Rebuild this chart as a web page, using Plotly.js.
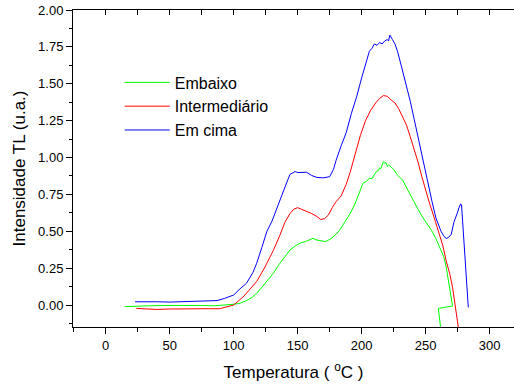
<!DOCTYPE html>
<html>
<head>
<meta charset="utf-8">
<script src="https://cdn.plot.ly/plotly-3.0.1.min.js"></script>
<style>html,body{margin:0;padding:0;overflow:hidden;background:#fff;}</style>
</head>
<body>
<div id="chart" style="width:514px;height:389px;"></div>
<script>
// Series names
const seriesNames = ["Embaixo", "Intermediário", "Em cima"];

// Embaixo (green)
const embaixoT = [15,25,35,45,55,65,75,85,95,100,105,110,114,118,122,126,131,135,140,144,148,152,156,160,162,165,169,172,176,180,183,187,191,195,199,201,204,206,208,211,213,214,215,217,218,219,220,221,223,225,228,232,236,240,244,248,251,255,258,261,264,266,268,270,271,259.9,261.7,262.3];
const embaixoI = [-0.011,-0.01,-0.005,-0.003,-0.002,0.0,-0.003,-0.005,0.0,0.005,0.012,0.03,0.05,0.08,0.12,0.16,0.215,0.27,0.33,0.373,0.40,0.42,0.43,0.445,0.452,0.44,0.435,0.43,0.45,0.48,0.51,0.565,0.62,0.69,0.78,0.825,0.84,0.86,0.855,0.90,0.91,0.93,0.925,0.972,0.96,0.965,0.94,0.95,0.935,0.92,0.88,0.847,0.78,0.712,0.65,0.59,0.554,0.50,0.45,0.395,0.33,0.26,0.15,0.03,-0.007,-0.023,-0.15,-0.2];

// Intermediário (red)
const intermT = [24,30,40,50,60,70,80,89,95,100,104,108,112,118,124,131,136,140,144,147,150,153,157,161,165,168,171,174,177,180,184,188,191,195,199,203,207,211,214,217,220,223,226,229,232,235,238,241,244,247,250,253,256,259,261,263.5,266,268.7,271,272.6,274,275.5,276];
const intermI = [-0.023,-0.025,-0.03,-0.027,-0.025,-0.022,-0.025,-0.025,-0.01,0.0,0.03,0.06,0.10,0.16,0.25,0.37,0.47,0.56,0.62,0.65,0.66,0.65,0.635,0.62,0.60,0.58,0.585,0.61,0.66,0.70,0.74,0.82,0.90,1.02,1.15,1.25,1.32,1.37,1.40,1.42,1.415,1.39,1.37,1.33,1.28,1.22,1.14,1.06,0.97,0.87,0.77,0.69,0.61,0.53,0.47,0.40,0.30,0.215,0.12,0.034,-0.06,-0.15,-0.22];

// Em cima (blue)
const emCimaT = [23,30,40,50,60,70,80,87,93,100,105,110,115,118,122,126,130,134,138,141,144,146,148,150,153,157,161,165,170,175,178,180,184,188,192,196,200,204,206,208,210,212,214,216,218,220,221,222,223,224,226,228,231,234,238,241,244,247,250,252,255,258,260,262,264,266,268,270,272,273,274,275,276,277.3,278,283.3];
const emCimaI = [0.022,0.02,0.022,0.02,0.022,0.022,0.025,0.03,0.045,0.068,0.11,0.147,0.22,0.283,0.39,0.50,0.57,0.666,0.76,0.82,0.885,0.895,0.905,0.898,0.9,0.9,0.878,0.865,0.862,0.87,0.92,0.98,1.08,1.17,1.30,1.41,1.54,1.66,1.72,1.74,1.77,1.76,1.78,1.77,1.79,1.80,1.79,1.83,1.81,1.80,1.77,1.72,1.62,1.52,1.38,1.26,1.14,1.02,0.88,0.80,0.70,0.59,0.54,0.50,0.47,0.45,0.46,0.48,0.56,0.58,0.60,0.63,0.66,0.685,0.68,-0.016];

// Axis ticks
const xTicks = [0,50,100,150,200,250,300];
const yTicks = [0,0.25,0.5,0.75,1.0,1.25,1.5,1.75,2.0];
const yTickLabels = ["0.00","0.25","0.50","0.75","1.00","1.25","1.50","1.75","2.00"];

const colors = ["#00ff00","#ff0000","#0000ff"];
const xs = [embaixoT, intermT, emCimaT];
const ys = [embaixoI, intermI, emCimaI];

const traces = xs.map((x, i) => ({
  x: x, y: ys[i], type: "scatter", mode: "lines",
  name: seriesNames[i], legendgroup: "g" + i,
  line: {color: colors[i], width: 1},
  xaxis: "x", yaxis: "y"
}));
traces.push({x: [], y: [], type: "scatter", mode: "lines", xaxis: "x2", yaxis: "y", showlegend: false, hoverinfo: "skip"});

const font = {family: "Liberation Sans, Arial, sans-serif", color: "#000"};
const xr = [-25.5, 319];

const layout = {
  width: 514, height: 389,
  margin: {l: 73, r: 0, t: 10, b: 62, pad: 0},
  paper_bgcolor: "#fff", plot_bgcolor: "#fff",
  font: font,
  showlegend: true,
  legend: {
    x: 0.106, y: 0.825, xanchor: "left", yanchor: "top",
    bgcolor: "rgba(0,0,0,0)", borderwidth: 0,
    font: {family: font.family, size: 16, color: "#000"},
    itemwidth: 45, tracegroupgap: 0
  },
  xaxis: {
    range: xr, tickvals: xTicks, ticktext: xTicks.map(String),
    ticks: "outside", ticklen: 6, tickwidth: 1, tickcolor: "#000",
    minor: {dtick: 25, tick0: 0, ticks: "outside", ticklen: 4, tickwidth: 1, tickcolor: "#000"},
    showline: true, linecolor: "#000", linewidth: 1,
    showgrid: false, zeroline: false,
    tickfont: {family: font.family, size: 13, color: "#000"},
    title: {text: "Temperatura ( <sup>o</sup>C )", font: {family: font.family, size: 17, color: "#000"}, standoff: 14}
  },
  xaxis2: {
    overlaying: "x", side: "top", anchor: "y", matches: "x", range: xr,
    tickvals: xTicks, showticklabels: false,
    ticks: "inside", ticklen: 5, tickwidth: 1, tickcolor: "#000",
    minor: {dtick: 25, tick0: 0, ticks: "inside", ticklen: 5, tickwidth: 1, tickcolor: "#000"},
    showline: true, linecolor: "#000", linewidth: 1,
    showgrid: false, zeroline: false
  },
  yaxis: {
    range: [-0.149, 2.0], tickvals: yTicks, ticktext: yTickLabels,
    ticks: "outside", ticklen: 6, tickwidth: 1, tickcolor: "#000",
    minor: {dtick: 0.125, tick0: 0, ticks: "outside", ticklen: 3, tickwidth: 1, tickcolor: "#000"},
    showline: true, linecolor: "#000", linewidth: 1,
    showgrid: false, zeroline: false,
    tickfont: {family: font.family, size: 13, color: "#000"},
    title: {text: "Intensidade TL (u.a.)", font: {family: font.family, size: 17, color: "#000"}, standoff: 8}
  }
};

Plotly.newPlot("chart", traces, layout, {displayModeBar: false, staticPlot: true});
</script>
</body>
</html>
